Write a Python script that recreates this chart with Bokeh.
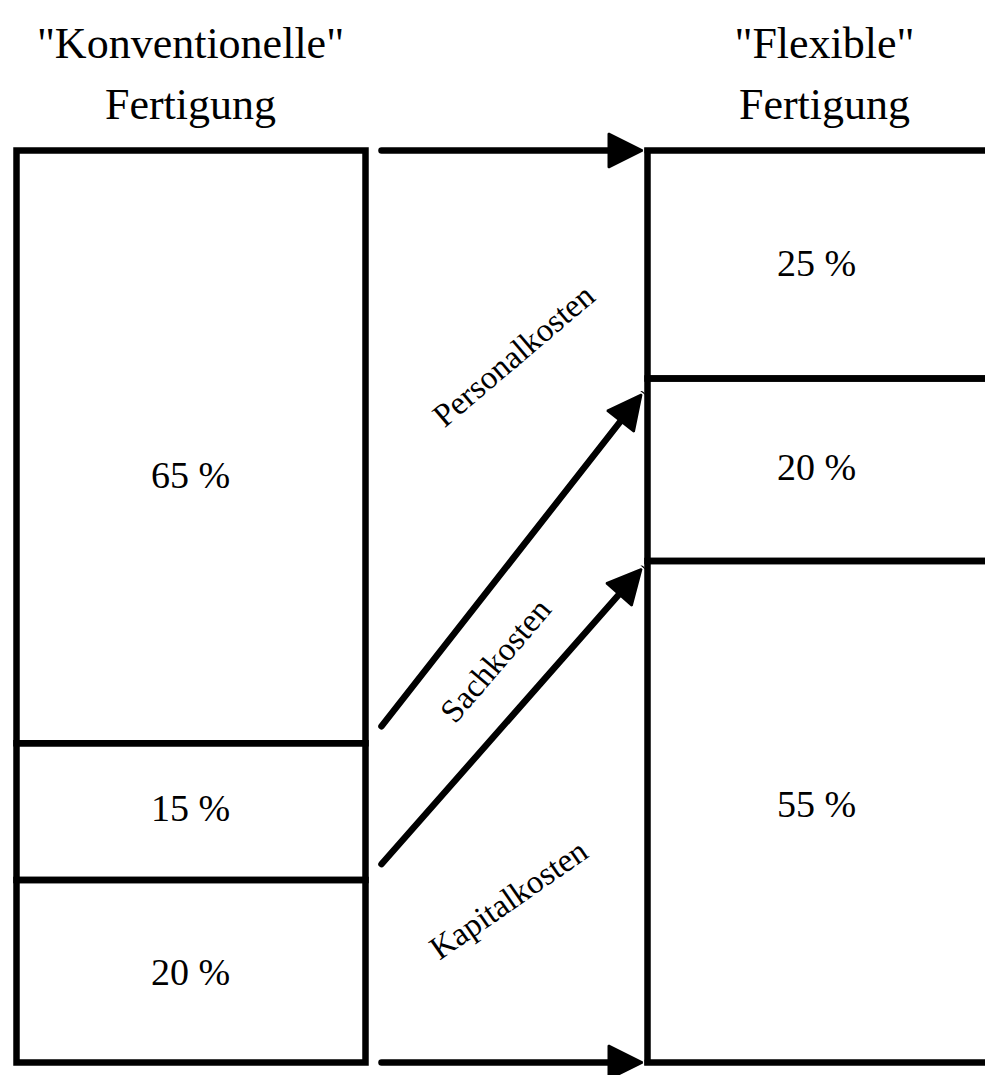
import numpy as np
from bokeh.plotting import figure
from bokeh.models import Range1d, Arrow, NormalHead
from bokeh.core.properties import value
from bokeh.embed import file_html
from bokeh.resources import INLINE

# ---------------- data ----------------
categories = ["Kapitalkosten", "Sachkosten", "Personalkosten"]   # bottom -> top
konventionell = [20, 15, 65]     # % share, "konventionelle" Fertigung
flexibel = [55, 20, 25]          # % share, "flexible" Fertigung
title_left = ['"Konventionelle"', "Fertigung"]
title_right = ['"Flexible"', "Fertigung"]

# ---------------- layout (page pixels) ----------------
FONT = "Liberation Serif"
TOP_PX, BOTTOM_PX = 150.0, 1062.0
PX_PER_PCT = (BOTTOM_PX - TOP_PX) / 100.0


def y_of(px):
    """page pixel row -> percent coordinate of the stacked scale"""
    return (BOTTOM_PX - px) / PX_PER_PCT


LEFT_BOX = (16, 365)
RIGHT_BOX = (647, 1010)
LEFT_LABEL_X, RIGHT_LABEL_X = 190, 816
left_label_shift_px = [1, -4, 28]      # visual shift of the % labels (screen px, down)
right_label_shift_px = [-8, -3, -2]
ARROW_X0, ARROW_X1 = 381, 641
arrow_gap_start_px = [16, 17]
arrow_gap_end_px = [8, 16]
cat_label_pos = [(508, 899, 34.8), (495, 660, 49.5), (513, 355, 40.3)]
LW = 6.5

W, H = 985, 1075
p = figure(width=W, height=H, output_backend="svg", toolbar_location=None,
           x_range=Range1d(0, W), y_range=Range1d(y_of(H), y_of(0)),
           min_border=0, min_border_left=0, min_border_right=0,
           min_border_top=0, min_border_bottom=0)
p.axis.visible = False
p.xgrid.visible = False
p.ygrid.visible = False
p.outline_line_color = None
p.background_fill_color = "white"
p.border_fill_color = "white"

k_top = np.cumsum(konventionell)
k_bot = k_top - np.array(konventionell)
f_top = np.cumsum(flexibel)
f_bot = f_top - np.array(flexibel)

# stacked boxes
p.quad(left=LEFT_BOX[0], right=LEFT_BOX[1], bottom=k_bot, top=k_top,
       fill_color=None, line_color="black", line_width=LW, line_join="miter")
p.quad(left=RIGHT_BOX[0], right=RIGHT_BOX[1], bottom=f_bot, top=f_top,
       fill_color=None, line_color="black", line_width=LW, line_join="miter")

# percent labels
k_mid = (k_top + k_bot) / 2 - np.array(left_label_shift_px) / PX_PER_PCT
f_mid = (f_top + f_bot) / 2 - np.array(right_label_shift_px) / PX_PER_PCT
p.text(x=[LEFT_LABEL_X] * len(konventionell), y=k_mid,
       text=[f"{v} %" for v in konventionell], text_align="center",
       text_baseline="middle", text_font=value(FONT), text_font_size="38px",
       text_color="black")
p.text(x=[RIGHT_LABEL_X] * len(flexibel), y=f_mid,
       text=[f"{v} %" for v in flexibel], text_align="center",
       text_baseline="middle", text_font=value(FONT), text_font_size="38px",
       text_color="black")

# titles
p.text(x=[190, 190], y=[y_of(43), y_of(104)], text=title_left,
       text_align="center", text_baseline="alphabetic", text_font=value(FONT),
       text_font_size="44px", text_color="black")
p.text(x=[824, 824], y=[y_of(43), y_of(104)], text=title_right,
       text_align="center", text_baseline="alphabetic", text_font=value(FONT),
       text_font_size="44px", text_color="black")


def head():
    return NormalHead(size=34, fill_color="black", line_color="black", line_width=2)


# horizontal arrows at 100 % and 0 %
for yv in (100.0, 0.0):
    p.add_layout(Arrow(end=head(), x_start=ARROW_X0, y_start=yv,
                       x_end=ARROW_X1 + 1, y_end=yv, line_width=LW,
                       line_color="black", line_cap="round"))

# diagonal arrows between cumulative boundaries
k_bounds = k_top[:-1]
f_bounds = f_top[:-1]
for i, (kb, fb) in enumerate(zip(k_bounds, f_bounds)):
    p.add_layout(Arrow(end=head(), x_start=ARROW_X0,
                       y_start=kb + arrow_gap_start_px[i] / PX_PER_PCT,
                       x_end=ARROW_X1, y_end=fb - arrow_gap_end_px[i] / PX_PER_PCT,
                       line_width=LW, line_color="black", line_cap="round"))

# category labels (rotated)
p.text(x=[c[0] for c in cat_label_pos], y=[y_of(c[1]) for c in cat_label_pos],
       text=categories, angle=[np.deg2rad(c[2]) for c in cat_label_pos],
       text_align="center", text_baseline="middle", text_font=value(FONT),
       text_font_size="33px", text_color="black")

open("out.html", "w").write(file_html(p, INLINE))
